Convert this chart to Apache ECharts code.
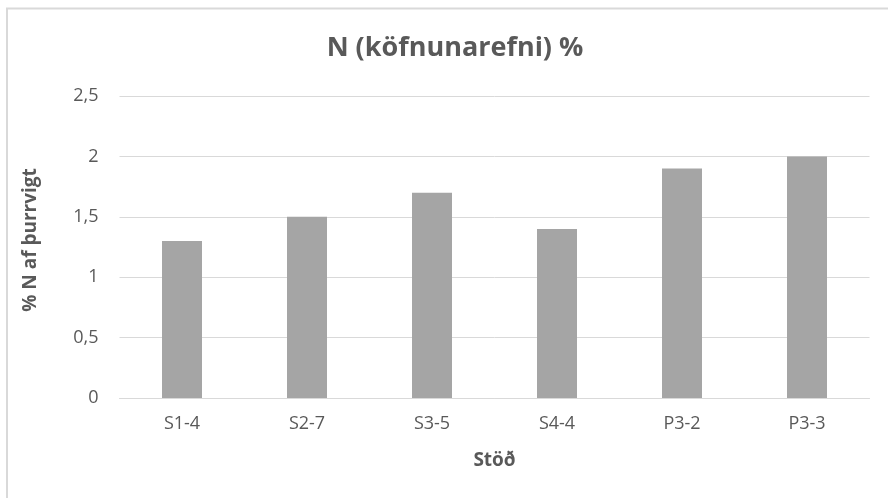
<!DOCTYPE html>
<html>
<head>
<meta charset="utf-8">
<script src="https://cdn.jsdelivr.net/npm/echarts@6/dist/echarts.min.js"></script>
<style>
  html, body { margin: 0; padding: 0; background: #ffffff; }
  #chart { width: 888px; height: 498px; }
</style>
</head>
<body>
<div id="chart"></div>
<script>
// Sampling stations and nitrogen content (% of dry weight)
const stations = ['S1-4', 'S2-7', 'S3-5', 'S4-4', 'P3-2', 'P3-3'];
const nitrogen = [1.3, 1.5, 1.7, 1.4, 1.9, 2.0];

const FONT = '"Open Sans", sans-serif';
const TEXT = '#595959';

const chart = echarts.init(document.getElementById('chart'), null, { renderer: 'canvas' });

chart.setOption({
  animation: false,
  backgroundColor: '#ffffff',
  title: {
    text: 'N (köfnunarefni) %',
    left: 450,
    top: 30,
    textAlign: 'center',
    textStyle: { fontFamily: FONT, fontSize: 27, fontWeight: 'bold', color: TEXT }
  },
  graphic: [{
    type: 'rect',
    shape: { x: 7, y: 8.5, width: 900, height: 500 },
    style: { fill: 'none', stroke: '#d9d9d9', lineWidth: 2 },
    silent: true
  }],
  grid: { left: 119.5, right: 18.5, top: 96, bottom: 100, containLabel: false },
  xAxis: {
    type: 'category',
    data: stations,
    name: 'Stöð',
    nameLocation: 'middle',
    nameGap: 53,
    nameTextStyle: { fontFamily: FONT, fontSize: 19, fontWeight: 'bold', color: TEXT },
    axisLine: { show: true, lineStyle: { color: '#d9d9d9', width: 1 } },
    axisTick: { show: false },
    axisLabel: { fontFamily: FONT, fontSize: 18, color: TEXT, margin: 17 }
  },
  yAxis: {
    type: 'value',
    min: 0,
    max: 2.5,
    interval: 0.5,
    name: '% N af þurrvigt',
    nameLocation: 'middle',
    nameGap: 79,
    nameTextStyle: {
      fontFamily: FONT, fontSize: 19, fontWeight: 'bold', color: TEXT,
      padding: [0, 0, 0, 14]
    },
    axisLine: { show: false },
    axisTick: { show: false },
    axisLabel: {
      fontFamily: FONT, fontSize: 18, color: TEXT, margin: 21,
      formatter: v => String(v).replace('.', ',')
    },
    splitLine: { lineStyle: { color: '#d9d9d9', width: 1 } }
  },
  series: [{
    type: 'bar',
    data: nitrogen,
    barWidth: 40,
    itemStyle: { color: '#a5a5a5' }
  }]
});
</script>
</body>
</html>
